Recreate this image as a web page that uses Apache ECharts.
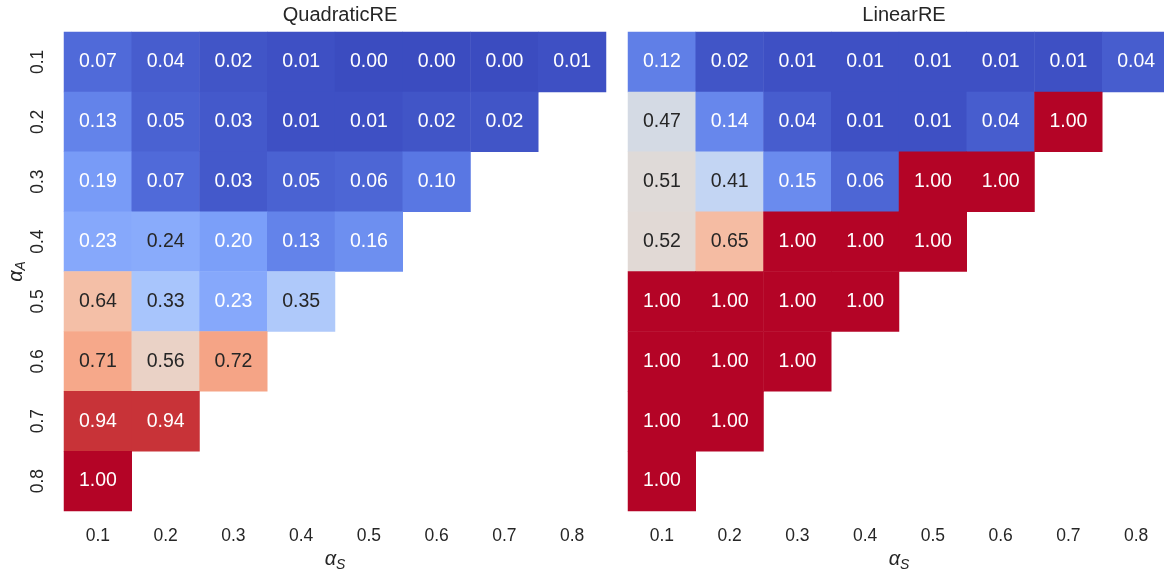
<!DOCTYPE html>
<html>
<head>
<meta charset="utf-8">
<script src="https://cdn.jsdelivr.net/npm/echarts@6/dist/echarts.min.js"></script>
<style>
html,body{margin:0;padding:0;background:#fff;}
#chart{width:1164px;height:570px;}
</style>
</head>
<body>
<div id="chart"></div>
<script>
const alphaS = ['0.1','0.2','0.3','0.4','0.5','0.6','0.7','0.8'];
const alphaA = ['0.1','0.2','0.3','0.4','0.5','0.6','0.7','0.8'];
const titles = ['QuadraticRE', 'LinearRE'];

// rows: alpha_A 0.1..0.8 ; columns: alpha_S 0.1..
const quadraticRE = [
  [0.07,0.04,0.02,0.01,0.00,0.00,0.00,0.01],
  [0.13,0.05,0.03,0.01,0.01,0.02,0.02],
  [0.19,0.07,0.03,0.05,0.06,0.10],
  [0.23,0.24,0.20,0.13,0.16],
  [0.64,0.33,0.23,0.35],
  [0.71,0.56,0.72],
  [0.94,0.94],
  [1.00]
];
const linearRE = [
  [0.12,0.02,0.01,0.01,0.01,0.01,0.01,0.04],
  [0.47,0.14,0.04,0.01,0.01,0.04,1.00],
  [0.51,0.41,0.15,0.06,1.00,1.00],
  [0.52,0.65,1.00,1.00,1.00],
  [1.00,1.00,1.00,1.00],
  [1.00,1.00,1.00],
  [1.00,1.00],
  [1.00]
];

const coolwarm = ['#3b4cc0','#5977e3','#7b9ff9','#9ebeff','#c0d4f5','#dddcdc','#f2cbb7','#f7ac8e','#ee8468','#d65244','#b40426'];

function hexToRgb(h){return [parseInt(h.slice(1,3),16),parseInt(h.slice(3,5),16),parseInt(h.slice(5,7),16)];}
function cmap(v){
  const t = Math.max(0,Math.min(1,v))*(coolwarm.length-1);
  const i = Math.min(Math.floor(t), coolwarm.length-2);
  const f = t - i;
  const a = hexToRgb(coolwarm[i]), b = hexToRgb(coolwarm[i+1]);
  return [0,1,2].map(k=>a[k]+(b[k]-a[k])*f);
}
function textColor(v){
  const c = cmap(v).map(x=>{x/=255;return x<=0.03928?x/12.92:Math.pow((x+0.055)/1.055,2.4);});
  const L = 0.2126*c[0]+0.7152*c[1]+0.0722*c[2];
  return L > 0.408 ? '#262626' : '#ffffff';
}
function toData(mat){
  const out=[];
  mat.forEach((row,r)=>row.forEach((v,c)=>{
    out.push({value:[c,r,v],label:{color:textColor(v)}});
  }));
  return out;
}

const FONT = 'Liberation Sans, Arial, sans-serif';
const TXT = '#262626';
const gridLefts = [64, 628];
const grids = gridLefts.map(l=>({left:l, top:32, width:542, height:479, outerBoundsMode:'none', containLabel:false}));

const nameRich = {
  a:{fontSize:20, fontStyle:'italic', color:TXT, fontFamily:FONT},
  s:{fontSize:14, fontStyle:'italic', color:TXT, fontFamily:FONT, padding:[10,0,0,0]}
};
const xAxes = grids.map((g,i)=>({
  type:'category', gridIndex:i, data:alphaS,
  axisLine:{show:false}, axisTick:{show:false}, splitLine:{show:false},
  axisLabel:{color:TXT, fontSize:17.5, fontFamily:FONT, margin:16},
  name:'{a|α}{s|S}', nameLocation:'middle', nameGap:35,
  nameTextStyle:{rich:nameRich}
}));
const yAxes = grids.map((g,i)=>({
  type:'category', gridIndex:i, data:alphaA, inverse:true,
  axisLine:{show:false}, axisTick:{show:false}, splitLine:{show:false},
  axisLabel:{show:i===0, color:TXT, fontSize:17.5, fontFamily:FONT, rotate:90, margin:17},
  name: i===0 ? '{a|α}{s|A}' : '', nameLocation:'middle', nameGap:36, nameRotate:90,
  nameTextStyle:{rich:nameRich}
}));

const mats = [quadraticRE, linearRE];
const series = mats.map((m,i)=>({
  type:'heatmap', xAxisIndex:i, yAxisIndex:i, data:toData(m),
  label:{show:true, fontSize:19.5, fontFamily:FONT, formatter:p=>p.value[2].toFixed(2)},
  itemStyle:{borderWidth:0},
  emphasis:{disabled:true}
}));

const option = {
  backgroundColor:'#fff',
  animation:false,
  title: titles.map((t,i)=>({
    text:t, left: gridLefts[i]+271, top:0, textAlign:'center',
    textStyle:{fontSize:20, fontWeight:'normal', color:TXT, fontFamily:FONT}
  })),
  grid: grids,
  xAxis: xAxes,
  yAxis: yAxes,
  visualMap:{show:false, min:0, max:1, dimension:2, seriesIndex:[0,1], inRange:{color:coolwarm}},
  series: series
};
const chart = echarts.init(document.getElementById('chart'));
chart.setOption(option);
</script>
</body>
</html>
